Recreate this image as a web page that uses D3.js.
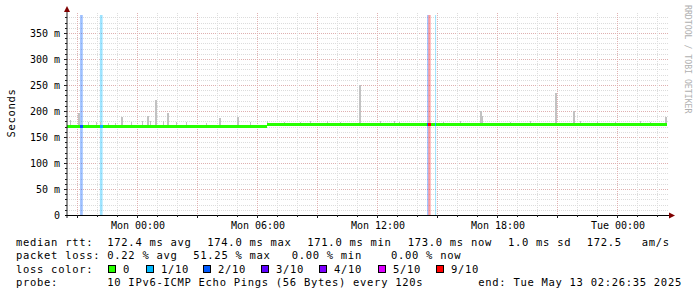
<!DOCTYPE html>
<html>
<head>
<meta charset="utf-8">
<title>smokeping</title>
<style>
  body { margin: 0; background: #fff; }
  svg { display: block; }
  text { font-family: "DejaVu Sans Mono", monospace; fill: #000; }
  .lg { font-size: 10.5px; letter-spacing: 0.7px; white-space: pre; }
  .ax { font-size: 10px; }
</style>
<script src="https://cdn.jsdelivr.net/npm/d3@7"></script>
</head>
<body>
<script>
// all hours are counted from Mon 00:00 (May 12 2025)
var medianStart = -3.5;   // Sun 20:30, one value per half hour
var medianStep = 0.5;
var medianMs = [
  171.0, 171.0, 171.0, 171.0, 171.0, 171.0, 171.0, 171.0, 171.0, 171.0,
  171.0, 171.0, 171.0, 171.0, 171.0, 171.0, 171.0, 171.0, 171.0, 171.0,
  173.5, 173.5, 173.5, 173.5, 173.5, 173.5, 173.5, 173.5, 173.5, 173.5,
  173.5, 173.5, 173.5, 173.5, 173.5, 173.5, 173.5, 173.5, 173.5, 173.5,
  173.5, 173.5, 173.5, 173.5, 173.5, 173.5, 173.5, 173.5, 173.5, 173.5,
  173.5, 173.5, 173.5, 173.5, 173.5, 173.5, 173.5, 173.5, 173.5, 173.5, 173.5
];

// smoke spikes (highest ping of the column)
var smokeHours = [-3.37, -2.99, -2.47, -2.07, -1.87, -1.48, -1.12, -0.82, -0.32, 0.24,
                  0.49, 0.64, 0.89, 1.29, 1.49, 1.94, 2.44, 3.44, 4.09, 4.97,
                  5.64, 6.47, 7.34, 8.14, 8.64, 9.47, 10.14, 11.1, 12.14, 12.84,
                  13.09, 14.52, 15.29, 16.14, 17.14, 17.2, 18.64, 19.64, 20.89, 21.77,
                  22.14, 22.99, 23.89, 25.14, 25.64, 26.39];
var smokeTopMs = [182.7, 196, 179, 179, 179, 177.5, 176, 188, 178, 181,
                  190, 181, 221, 181, 197, 178, 179, 176, 187, 188,
                  178, 181, 179, 179, 181, 181, 179, 250, 180, 181,
                  178, 179, 179, 180, 200, 190, 179, 180, 234, 200,
                  180, 181, 179, 180, 179, 188];

// packet loss events
var lossHours = [-2.86, -1.87, 14.49, 14.55, 14.89];
var lossMinutes = [8, 8, 4, 7, 3];
var lossLevel = [2, 1, 2, 6, 1];

var lossColors = ["#26ff00", "#00b8ff", "#0059ff", "#5e00ff", "#7e00ff", "#dd00ff", "#ff0000"];
var lossLabels = ["0", "1/10", "2/10", "3/10", "4/10", "5/10", "9/10"];

var yTicks = [0, 50, 100, 150, 200, 250, 300, 350];
var yTickLabels = ["0", "50 m", "100 m", "150 m", "200 m", "250 m", "300 m", "350 m"];

var rttStats = ["172.4 ms avg", "174.0 ms max", "171.0 ms min", "173.0 ms now", "1.0 ms sd", "172.5", "am/s"];
var lossStats = ["0.22 % avg", "51.25 % max", "0.00 % min", "0.00 % now"];
var probeText = "10 IPv6-ICMP Echo Pings (56 Bytes) every 120s";
var endText = "end: Tue May 13 02:26:35 2025";

var W = 697, H = 297;
var pL = 67, pR = 667, pT = 15, pB = 215;

var base = new Date(2025, 4, 12, 0, 0, 0);
function hour(h) { return new Date(base.getTime() + h * 3600e3); }

var x = d3.scaleTime().domain([hour(-3.515), hour(26.485)]).range([pL, pR]);
var y = d3.scaleLinear().domain([0, 384.6]).range([pB, pT]);

var svg = d3.select("body").append("svg").attr("width", W).attr("height", H);

// grid
var grid = svg.append("g").attr("shape-rendering", "crispEdges").attr("stroke-dasharray", "1,1");
var hLines = d3.range(10, 381, 10);
grid.selectAll(".hl").data(hLines).enter().append("line")
  .attr("x1", pL).attr("x2", pR + 1)
  .attr("y1", function(d) { return Math.round(y(d)) + 0.5; })
  .attr("y2", function(d) { return Math.round(y(d)) + 0.5; })
  .attr("stroke", function(d) { return d % 50 === 0 ? "#dfb0b0" : "#dcdcdc"; });

var hours = d3.timeHour.range(x.domain()[0], x.domain()[1]);
grid.selectAll(".vl").data(hours).enter().append("line")
  .attr("x1", function(d) { return Math.round(x(d)) + 0.5; })
  .attr("x2", function(d) { return Math.round(x(d)) + 0.5; })
  .attr("y1", pT - 2).attr("y2", pB)
  .attr("stroke", function(d) { return d.getHours() % 3 === 0 ? "#dfb0b0" : "#dcdcdc"; });

// loss bars
var loss = lossHours.map(function(h, i) {
  return { t0: hour(h), t1: hour(h + lossMinutes[i] / 60), c: lossColors[lossLevel[i]] };
});
svg.append("g").selectAll("rect").data(loss).enter().append("rect")
  .attr("x", function(d) { return x(d.t0); })
  .attr("width", function(d) { return Math.max(1, x(d.t1) - x(d.t0)); })
  .attr("y", pT).attr("height", pB - pT)
  .attr("fill", function(d) { return d.c; })
  .attr("fill-opacity", 0.38);

function medianAt(h) {
  var i = Math.floor((h - medianStart) / medianStep);
  return medianMs[Math.max(0, Math.min(medianMs.length - 1, i))];
}

// smoke
svg.append("g").attr("shape-rendering", "crispEdges")
  .selectAll("rect").data(smokeHours).enter().append("rect")
  .attr("x", function(d) { return Math.round(x(hour(d))); })
  .attr("width", function(d, i) { return smokeTopMs[i] > 185 ? 2 : 1; })
  .attr("y", function(d, i) { return y(smokeTopMs[i]); })
  .attr("height", function(d, i) { return y(medianAt(d)) - y(smokeTopMs[i]); })
  .attr("fill", "#c2c2c2");

// median line
var med = medianMs.map(function(v, i) {
  var h0 = medianStart + i * medianStep;
  return { t0: hour(h0), t1: hour(h0 + medianStep), v: v };
});
var mg = svg.append("g").attr("shape-rendering", "crispEdges");
mg.selectAll(".m").data(med).enter().append("rect")
  .attr("x", function(d) { return Math.max(pL, x(d.t0)); })
  .attr("width", function(d) { return Math.max(0, Math.min(pR, x(d.t1)) - Math.max(pL, x(d.t0))); })
  .attr("y", function(d) { return y(d.v) - 1.5; })
  .attr("height", 3)
  .attr("fill", lossColors[0]);
mg.selectAll(".ml").data(loss).enter().append("rect")
  .attr("x", function(d) { return x(d.t0); })
  .attr("width", function(d) { return Math.max(1, x(d.t1) - x(d.t0)); })
  .attr("y", function(d, i) { return y(medianAt(lossHours[i])) - 1.5; })
  .attr("height", 3)
  .attr("fill", function(d) { return d.c; });

// axes
var ax = svg.append("g");
ax.append("line").attr("x1", pL).attr("x2", pL).attr("y1", pB + 3).attr("y2", pT - 4)
  .attr("stroke", "#202020");
ax.append("line").attr("x1", pL - 2).attr("x2", pR + 4).attr("y1", pB + 0.5).attr("y2", pB + 0.5)
  .attr("stroke", "#000");
ax.append("path").attr("d", "M" + (pL - 3) + "," + (pT - 3) + "L" + pL + "," + (pT - 9) + "L" + (pL + 3) + "," + (pT - 3) + "Z")
  .attr("fill", "#7f0000");
ax.append("path").attr("d", "M" + (pR + 2) + "," + (pB - 2.5) + "L" + (pR + 8) + "," + (pB + 0.5) + "L" + (pR + 2) + "," + (pB + 3.5) + "Z")
  .attr("fill", "#7f0000");

var tk = svg.append("g").attr("shape-rendering", "crispEdges").attr("stroke", "#202020");
tk.selectAll(".yt").data(hLines).enter().append("line")
  .attr("x1", function(d) { return d % 50 === 0 ? pL - 3 : pL - 2; }).attr("x2", pL)
  .attr("y1", function(d) { return Math.round(y(d)) + 0.5; })
  .attr("y2", function(d) { return Math.round(y(d)) + 0.5; });
tk.selectAll(".xt").data(hours).enter().append("line")
  .attr("x1", function(d) { return Math.round(x(d)) + 0.5; })
  .attr("x2", function(d) { return Math.round(x(d)) + 0.5; })
  .attr("y1", pB).attr("y2", function(d) { return d.getHours() % 3 === 0 ? pB + 3 : pB + 2; });

svg.append("g").selectAll("text").data(yTicks).enter().append("text")
  .attr("class", "ax").attr("text-anchor", "end")
  .attr("x", 60).attr("y", function(d) { return y(d) + 3.6; })
  .text(function(d, i) { return yTickLabels[i]; });

var fmt = d3.timeFormat("%a %H:%M");
svg.append("g").selectAll("text").data(d3.timeHour.every(6).range(x.domain()[0], x.domain()[1])).enter().append("text")
  .attr("class", "ax").attr("text-anchor", "middle")
  .attr("x", function(d) { return x(d) + 0.7; }).attr("y", 228.5)
  .text(fmt);

svg.append("text").attr("class", "lg").attr("text-anchor", "middle")
  .attr("transform", "translate(15," + 113 + ") rotate(-90)")
  .text("Seconds");

svg.append("text").attr("transform", "translate(685,5) rotate(90)")
  .style("font-size", "8.2px").style("fill", "#b0b0b0")
  .text("RRDTOOL / TOBI OETIKER");

// legend
var lg = svg.append("g");
function seg(xp, yp, s) {
  lg.append("text").attr("class", "lg").attr("x", xp).attr("y", yp).text(s);
}
var rttX = [107.3, 207.3, 307.3, 407.7, 508, 586.7, 641.7];
seg(16, 245.5, "median rtt:");
rttStats.forEach(function(s, i) { seg(rttX[i], 245.5, s); });
var lossX = [107.3, 193.3, 291.7, 391];
seg(16, 259, "packet loss:");
lossStats.forEach(function(s, i) { seg(lossX[i], 259, s); });
seg(16, 272.5, "loss color:");
var boxX = [108, 146, 203, 261, 319, 378, 436];
lossLabels.forEach(function(s, i) {
  lg.append("rect").attr("x", boxX[i] + 0.5).attr("y", 265.5).attr("width", 7).attr("height", 7)
    .attr("fill", lossColors[i]).attr("stroke", "#000").attr("stroke-width", 1);
  seg(boxX[i] + 15, 272.5, s);
});
seg(16, 286, "probe:");
seg(107.3, 286, probeText);
seg(478.3, 286, endText);
</script>
</body>
</html>
